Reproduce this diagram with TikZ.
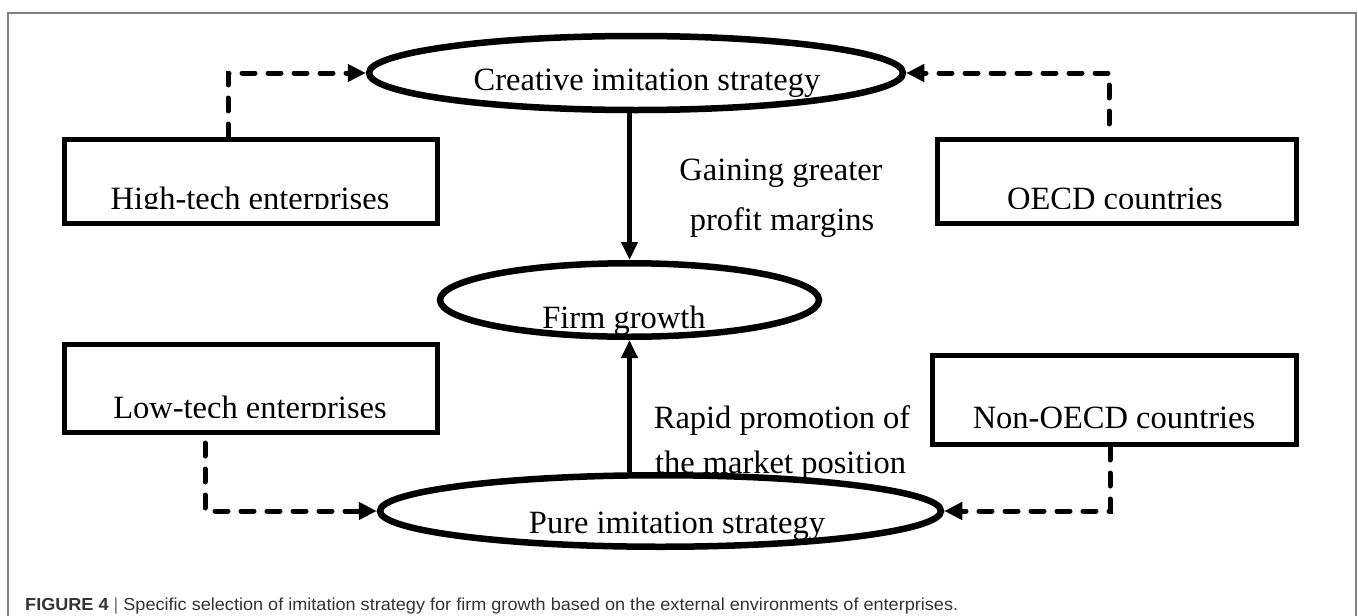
\documentclass[tikz,border=0pt]{standalone}
\usepackage{graphicx}
\usepackage{fontspec}
\setmainfont{Liberation Serif}
\newfontfamily\capfont{Liberation Sans}
\usetikzlibrary{shapes.geometric,arrows.meta}
\begin{document}
\begin{tikzpicture}[x=1pt,y=-1pt,
  ell/.style={draw, ellipse, line width=6.5pt, inner sep=0pt},
  box/.style={draw, rectangle, line width=5pt, inner sep=0pt},
  lbl/.style={inner sep=0pt, font=\fontsize{32.5}{39}\selectfont},
  dasharrow/.style={line width=5pt, line cap=round, dash pattern=on 13pt off 13pt, -{Triangle[length=18pt,width=17pt]}},
  solidarrow/.style={line width=5pt, -{Triangle[length=18pt,width=16pt]}}]
\useasboundingbox (0,0) rectangle (1358,616);
\draw[black!50, line width=1.5pt] (8,620) -- (8,13) -- (1356,13) -- (1356,620);

% texts
\node[lbl, anchor=base] (tcreative) at (647,90) {Creative imitation strategy};
\node[lbl, anchor=base] (tfirm) at (624,328) {Firm growth};
\node[lbl, anchor=base] (tpure) at (677,533) {Pure imitation strategy};
\node[lbl, anchor=base] (gain1) at (781,180) {Gaining greater};
\node[lbl, anchor=base] (gain2) at (782,230) {profit margins};
\node[lbl, anchor=base] (rapid1) at (782,428) {Rapid promotion of};
\node[lbl, anchor=base] (rapid2) at (780.5,473) {the market position};
\begin{scope}
  \clip (60,130) rectangle (445,208);
  \node[lbl, anchor=base] (thigh) at (250,209.5) {High-tech enterprises};
\end{scope}
\begin{scope}
  \clip (930,130) rectangle (1305,208);
  \node[lbl, anchor=base] (toecd) at (1115,209.5) {OECD countries};
\end{scope}
\begin{scope}
  \clip (60,340) rectangle (445,417);
  \node[lbl, anchor=base] (tlow) at (250,418.5) {Low-tech enterprises};
\end{scope}
\node[lbl, anchor=base] (tnon) at (1114,428) {Non-OECD countries};

% shapes
\node[ell, minimum width=534pt, minimum height=74pt] (creative) at (636,73) {};
\node[ell, minimum width=379pt, minimum height=73.5pt] (firm) at (629.5,300) {};
\node[ell, minimum width=561pt, minimum height=71.5pt] (pure) at (660.5,511) {};
\node[box, minimum width=373pt, minimum height=84pt] (hightech) at (251,181.5) {};
\node[box, minimum width=359pt, minimum height=84pt] (oecd) at (1117,181.5) {};
\node[box, minimum width=373pt, minimum height=88pt] (lowtech) at (251,388.5) {};
\node[box, minimum width=364pt, minimum height=89pt] (nonoecd) at (1114.5,400) {};

% connectors
\coordinate (hk) at (228,73);
\coordinate (ok) at (1109,73);
\coordinate (lk) at (205,511);
\coordinate (nk) at (1110,511);
\draw[dasharrow] (hk |- hightech.north) -- (hk) -- (creative.west);
\draw[dasharrow, dash phase=13pt] (ok |- oecd.north) -- (ok) -- (creative.east);
\draw[dasharrow, dash phase=18pt] (lk |- lowtech.south) -- (lk) -- (pure.west);
\draw[dasharrow] (nk |- nonoecd.south) -- (nk) -- (pure.east);
\draw[solidarrow] (creative.south -| firm.north) -- (firm.north);
\draw[solidarrow] (pure.north -| firm.south) -- (firm.south);

% caption
\node[anchor=base west, inner sep=0pt, text=black!80] (caption) at (25,610)
  {\resizebox{933pt}{12.6pt}{\capfont\fontsize{17}{20}\selectfont\textbf{FIGURE 4} {\color{black!55}|} Specific selection of imitation strategy for firm growth based on the external environments of enterprises.}};
\end{tikzpicture}
\end{document}
